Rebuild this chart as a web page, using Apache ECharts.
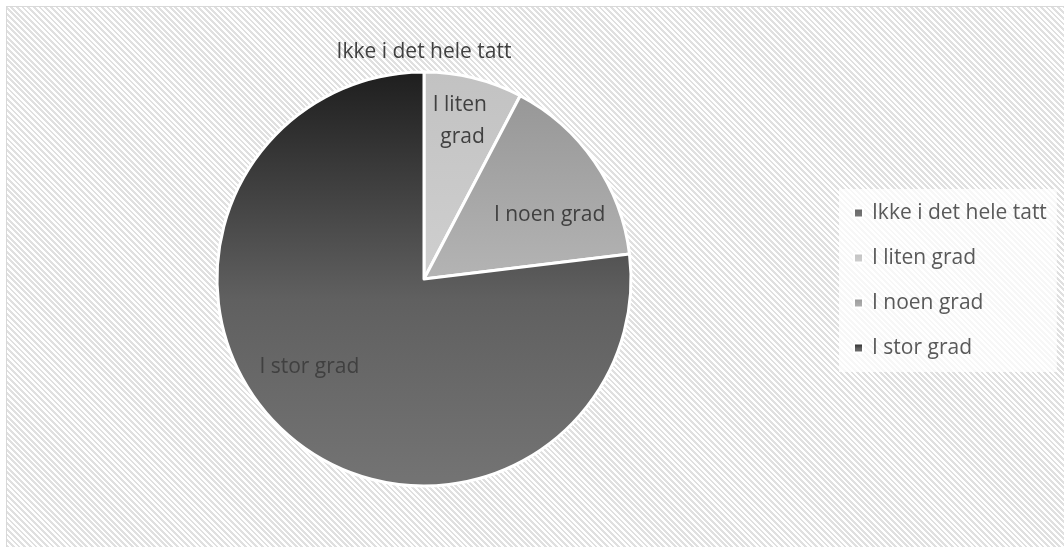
<!DOCTYPE html>
<html>
<head>
<meta charset="utf-8">
<script src="https://cdn.jsdelivr.net/npm/echarts@6/dist/echarts.min.js"></script>
<style>
  html, body { margin: 0; padding: 0; background: #fff; }
  #frame {
    position: absolute; left: 6px; top: 6px; width: 1070px; height: 560px;
    border-left: 1px solid #d9d9d9; border-top: 1px solid #d9d9d9;
    background: repeating-linear-gradient(45deg, #ffffff 0px, #ffffff 2px, #e0e0e0 2px, #e0e0e0 4px);
  }
  #chart { position: absolute; left: 0; top: 0; width: 1064px; height: 547px; }
</style>
</head>
<body>
<div id="frame"></div>
<div id="chart"></div>
<script>
// Answers per category
const categories = ['Ikke i det hele tatt', 'I liten grad', 'I noen grad', 'I stor grad'];
const counts = [0, 1, 2, 10];

// Slice fills: vertical gradient stops [offset, colour]
const fills = [
  [[0, '#666666'], [1, '#7a7a7a']],
  [[0, '#c2c2c2'], [1, '#cfcfcf']],
  [[0, '#979797'], [1, '#b4b4b4']],
  [[0, '#1e1e1e'], [0.55, '#606060'], [1, '#747474']]
];
// Label nudges from the default inside spot, plus wrap widths
const labelOffsets = [[0, -120], [13, -55], [38, -3], [-44, 8]];
const labelWidths = [null, 72, null, null];

const FONT = '"Open Sans", "Noto Sans", sans-serif';

const data = categories.map((name, i) => ({
  name,
  value: counts[i],
  itemStyle: {
    color: {
      type: 'linear', x: 0, y: 0, x2: 0, y2: 1,
      colorStops: fills[i].map(([offset, color]) => ({ offset, color }))
    }
  },
  label: Object.assign(
    { offset: labelOffsets[i] },
    labelWidths[i] ? { width: labelWidths[i], overflow: 'break' } : {}
  )
}));

const chart = echarts.init(document.getElementById('chart'), null, { renderer: 'canvas' });
chart.setOption({
  backgroundColor: 'transparent',
  animation: false,
  legend: {
    orient: 'vertical',
    left: 839,
    top: 189,
    padding: [12, 10, 12, 14],
    backgroundColor: 'rgba(255,255,255,0.72)',
    icon: 'rect',
    itemWidth: 9,
    itemHeight: 9,
    itemGap: 21,
    textStyle: { fontFamily: FONT, fontSize: 21, color: '#595959', lineHeight: 24, padding: [0, 0, 0, 4] },
    data: categories
  },
  series: [{
    type: 'pie',
    center: [424, 279],
    radius: 207,
    startAngle: 90,
    clockwise: true,
    stillShowZeroSum: true,
    minShowLabelAngle: 0,
    avoidLabelOverlap: false,
    itemStyle: { borderColor: '#ffffff', borderWidth: 3 },
    label: {
      show: true,
      position: 'inside',
      formatter: '{b}',
      fontFamily: FONT,
      fontSize: 21,
      lineHeight: 32,
      color: '#404040',
      align: 'center'
    },
    labelLine: { show: false },
    emphasis: { disabled: true },
    data
  }]
});
</script>
</body>
</html>
